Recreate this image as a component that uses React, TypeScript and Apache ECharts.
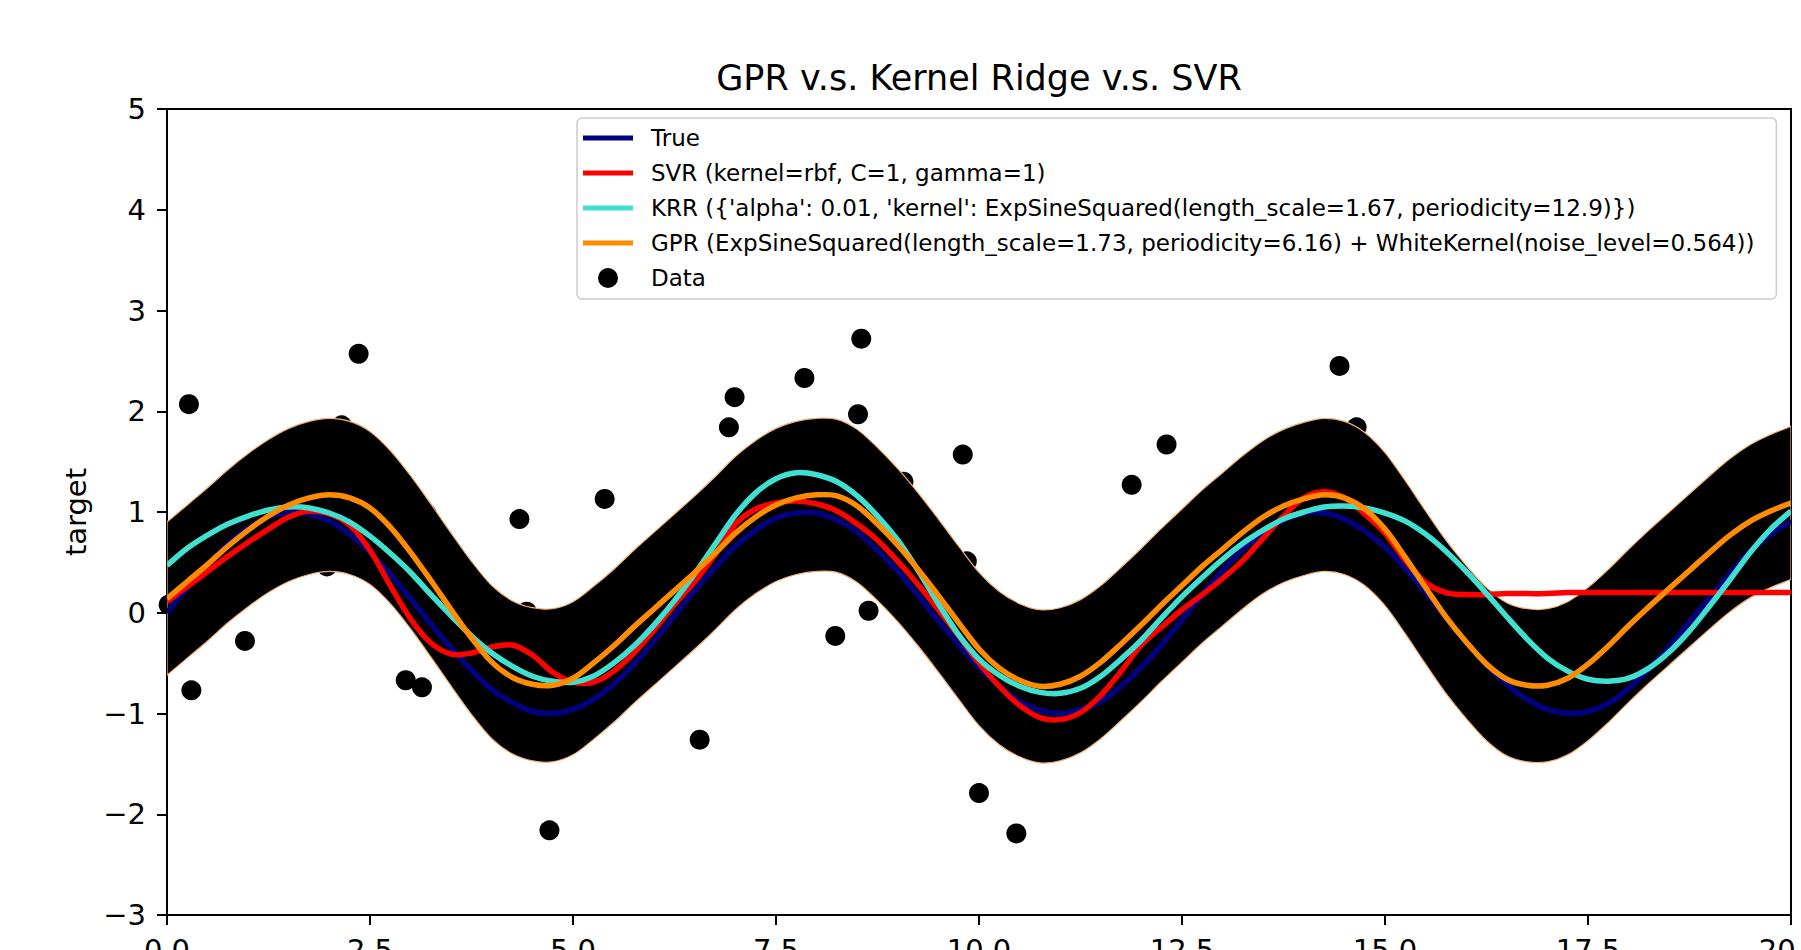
import React, { useEffect, useRef } from "react";
import * as echarts from "echarts";

const FONT = "'DejaVu Sans', 'Noto Sans', sans-serif";

const xs = [0, 0.25, 0.5, 0.75, 1, 1.25, 1.5, 1.75, 2, 2.25, 2.5, 2.75, 3, 3.25, 3.5, 3.75, 4, 4.25, 4.5, 4.75, 5, 5.25, 5.5, 5.75, 6, 6.25, 6.5, 6.75, 7, 7.25, 7.5, 7.75, 8, 8.25, 8.5, 8.75, 9, 9.25, 9.5, 9.75, 10, 10.25, 10.5, 10.75, 11, 11.25, 11.5, 11.75, 12, 12.25, 12.5, 12.75, 13, 13.25, 13.5, 13.75, 14, 14.25, 14.5, 14.75, 15, 15.25, 15.5, 15.75, 16, 16.25, 16.5, 16.75, 17, 17.25, 17.5, 17.75, 18, 18.25, 18.5, 18.75, 19, 19.25, 19.5, 19.75, 20];

const trueY = [
  0.00, 0.25, 0.48, 0.68, 0.84, 0.95, 1.00, 0.98,
  0.91, 0.78, 0.60, 0.38, 0.14, -0.11, -0.35, -0.57,
  -0.76, -0.89, -0.98, -1.00, -0.96, -0.86, -0.71, -0.51,
  -0.28, -0.03, 0.22, 0.45, 0.66, 0.82, 0.94, 0.99,
  0.99, 0.92, 0.80, 0.62, 0.41, 0.17, -0.08, -0.32,
  -0.54, -0.73, -0.88, -0.97, -1.00, -0.96, -0.88, -0.73,
  -0.54, -0.32, -0.07, 0.18, 0.42, 0.63, 0.80, 0.92,
  0.99, 0.99, 0.93, 0.81, 0.65, 0.44, 0.20, -0.05,
  -0.29, -0.52, -0.71, -0.86, -0.96, -1.00, -0.98, -0.90,
  -0.75, -0.56, -0.34, -0.09, 0.15, 0.39, 0.61, 0.78,
  0.91,
];

const svrY = [
  0.11, 0.26, 0.41, 0.56, 0.70, 0.83, 0.95, 1.01,
  0.98, 0.87, 0.62, 0.27, -0.06, -0.30, -0.41, -0.40,
  -0.34, -0.32, -0.42, -0.59, -0.69, -0.69, -0.58, -0.40,
  -0.17, 0.08, 0.31, 0.58, 0.88, 1.03, 1.09, 1.11,
  1.08, 1.01, 0.88, 0.72, 0.51, 0.28, 0.03, -0.23,
  -0.50, -0.73, -0.92, -1.04, -1.06, -0.99, -0.82, -0.58,
  -0.32, -0.14, 0.03, 0.18, 0.34, 0.52, 0.74, 0.96,
  1.14, 1.20, 1.14, 0.98, 0.79, 0.52, 0.30, 0.20,
  0.18, 0.18, 0.19, 0.19, 0.19, 0.20, 0.20, 0.20,
  0.20, 0.20, 0.20, 0.20, 0.20, 0.20, 0.20, 0.20,
  0.20,
];

const krrY = [
  0.47, 0.64, 0.77, 0.88, 0.96, 1.02, 1.05, 1.04,
  0.99, 0.90, 0.76, 0.59, 0.40, 0.18, -0.03, -0.23,
  -0.40, -0.53, -0.63, -0.68, -0.69, -0.63, -0.50, -0.33,
  -0.12, 0.12, 0.39, 0.68, 0.97, 1.19, 1.33, 1.39,
  1.37, 1.30, 1.16, 0.96, 0.72, 0.42, 0.09, -0.22,
  -0.46, -0.62, -0.73, -0.79, -0.80, -0.75, -0.63, -0.46,
  -0.27, -0.05, 0.16, 0.35, 0.53, 0.69, 0.82, 0.93,
  1.00, 1.05, 1.06, 1.04, 0.99, 0.91, 0.78, 0.61,
  0.41, 0.19, -0.04, -0.26, -0.45, -0.58, -0.66, -0.68,
  -0.65, -0.55, -0.39, -0.18, 0.07, 0.33, 0.60, 0.83,
  1.01,
];

const gprY = [
  0.14, 0.31, 0.48, 0.66, 0.82, 0.96, 1.07, 1.14,
  1.17, 1.14, 1.04, 0.85, 0.60, 0.32, 0.03, -0.25,
  -0.49, -0.64, -0.71, -0.72, -0.65, -0.50, -0.33, -0.14,
  0.04, 0.22, 0.40, 0.59, 0.79, 0.95, 1.07, 1.14,
  1.17, 1.16, 1.06, 0.88, 0.67, 0.43, 0.17, -0.10,
  -0.36, -0.55, -0.67, -0.73, -0.71, -0.63, -0.49, -0.31,
  -0.12, 0.08, 0.27, 0.46, 0.63, 0.80, 0.95, 1.06,
  1.13, 1.17, 1.14, 1.03, 0.83, 0.55, 0.25, -0.04,
  -0.29, -0.51, -0.66, -0.72, -0.72, -0.65, -0.51, -0.33,
  -0.13, 0.06, 0.24, 0.42, 0.60, 0.77, 0.91, 1.01,
  1.09,
];

const bandUpper = [
  0.90, 1.07, 1.24, 1.42, 1.58, 1.72, 1.83, 1.90,
  1.93, 1.90, 1.80, 1.61, 1.36, 1.08, 0.79, 0.51,
  0.27, 0.12, 0.05, 0.04, 0.11, 0.26, 0.43, 0.62,
  0.80, 0.98, 1.16, 1.35, 1.55, 1.71, 1.83, 1.90,
  1.93, 1.92, 1.82, 1.64, 1.43, 1.19, 0.93, 0.66,
  0.40, 0.21, 0.09, 0.03, 0.05, 0.13, 0.27, 0.45,
  0.64, 0.84, 1.03, 1.22, 1.39, 1.56, 1.71, 1.82,
  1.89, 1.93, 1.90, 1.79, 1.59, 1.31, 1.01, 0.72,
  0.47, 0.25, 0.10, 0.04, 0.04, 0.11, 0.25, 0.43,
  0.63, 0.82, 1.00, 1.18, 1.36, 1.53, 1.67, 1.77,
  1.85,
];

const bandLower = [
  -0.62, -0.45, -0.28, -0.10, 0.06, 0.20, 0.31, 0.38,
  0.41, 0.38, 0.28, 0.09, -0.16, -0.44, -0.73, -1.01,
  -1.25, -1.40, -1.47, -1.48, -1.41, -1.26, -1.09, -0.90,
  -0.72, -0.54, -0.36, -0.17, 0.03, 0.19, 0.31, 0.38,
  0.41, 0.40, 0.30, 0.12, -0.09, -0.33, -0.59, -0.86,
  -1.12, -1.31, -1.43, -1.49, -1.47, -1.39, -1.25, -1.07,
  -0.88, -0.68, -0.49, -0.30, -0.13, 0.04, 0.19, 0.30,
  0.37, 0.41, 0.38, 0.27, 0.07, -0.21, -0.51, -0.80,
  -1.05, -1.27, -1.42, -1.48, -1.48, -1.41, -1.27, -1.09,
  -0.89, -0.70, -0.52, -0.34, -0.16, 0.01, 0.15, 0.25,
  0.33,
];

const dataX = [0.02, 0.27, 0.30, 0.96, 1.97, 2.15, 2.36, 2.94, 3.14, 3.20, 4.34, 4.43, 4.71, 5.39, 6.56, 6.92, 6.99, 7.85, 8.23, 8.51, 8.55, 8.64, 9.07, 9.80, 9.85, 10.00, 10.46, 11.88, 12.31, 14.44, 14.65];
const dataY = [0.08, 2.07, -0.77, -0.28, 0.46, 1.86, 2.57, -0.67, -0.74, 0.98, 0.93, 0.01, -2.16, 1.13, -1.26, 1.84, 2.14, 2.33, -0.23, 1.97, 2.72, 0.02, 1.30, 1.57, 0.51, -1.79, -2.19, 1.27, 1.67, 2.45, 1.84];

const TITLE = "GPR v.s. Kernel Ridge v.s. SVR";
const NAME_TRUE = "True";
const NAME_SVR = "SVR (kernel=rbf, C=1, gamma=1)";
const NAME_KRR = "KRR ({'alpha': 0.01, 'kernel': ExpSineSquared(length_scale=1.67, periodicity=12.9)})";
const NAME_GPR = "GPR (ExpSineSquared(length_scale=1.73, periodicity=6.16) + WhiteKernel(noise_level=0.564))";
const NAME_DATA = "Data";

const LINE_ICON = "path://M0,0L0,0M63,20L63,20M0,7.5L50,7.5L50,12.5L0,12.5Z";
const DOT_ICON = "path://M0,0L0,0M63,20L63,20M25,0A10,10,0,1,1,25,20A10,10,0,1,1,25,0Z";

// Catmull-Rom curve through screen points, as cubic Bezier path commands (no leading M).
function smoothSegments(pts: number[][]): string {
  let d = "";
  const n = pts.length;
  for (let i = 0; i < n - 1; i++) {
    const p0 = pts[i === 0 ? 0 : i - 1];
    const p1 = pts[i];
    const p2 = pts[i + 1];
    const p3 = pts[i + 2 < n ? i + 2 : n - 1];
    const c1x = p1[0] + (p2[0] - p0[0]) / 6;
    const c1y = p1[1] + (p2[1] - p0[1]) / 6;
    const c2x = p2[0] - (p3[0] - p1[0]) / 6;
    const c2y = p2[1] - (p3[1] - p1[1]) / 6;
    d += ` C${c1x.toFixed(2)},${c1y.toFixed(2)} ${c2x.toFixed(2)},${c2y.toFixed(2)} ${p2[0].toFixed(2)},${p2[1].toFixed(2)}`;
  }
  return d;
}

function moveTo(p: number[]): string {
  return `M${p[0].toFixed(2)},${p[1].toFixed(2)}`;
}

export default function App() {
  const ref = useRef<HTMLDivElement>(null);

  useEffect(() => {
    document.body.style.margin = "0";
    if (!ref.current) return;
    const chart = echarts.init(ref.current, null, { renderer: "svg" });

    const curveSeries = (name: string, arr: number[], color: string) => ({
      name,
      type: "custom",
      data: xs.map((x, i) => [x, arr[i]]),
      encode: { x: 0, y: 1 },
      z: 4,
      clip: true,
      silent: true,
      itemStyle: { color },
      renderItem: (params: any, api: any) => {
        if (params.dataIndex !== 0) return null;
        const pts = xs.map((x, i) => api.coord([x, arr[i]]));
        return {
          type: "path",
          shape: { pathData: moveTo(pts[0]) + smoothSegments(pts), layout: "none" },
          style: { fill: "none", stroke: color, lineWidth: 5.5, lineJoin: "round", lineCap: "butt" },
        };
      },
    });

    const option: any = {
      animation: false,
      backgroundColor: "#ffffff",
      title: {
        text: TITLE,
        left: 979,
        top: 60,
        padding: 0,
        textAlign: "center",
        textStyle: { fontFamily: FONT, fontSize: 35, fontWeight: "normal", color: "#000", lineHeight: 35 },
      },
      legend: {
        orient: "vertical",
        left: 577,
        top: 118,
        padding: [8.5, 22, 9.5, 6],
        itemWidth: 63,
        itemHeight: 20,
        itemGap: 12,
        selectedMode: false,
        backgroundColor: "rgba(255,255,255,0.8)",
        borderColor: "#cccccc",
        borderWidth: 1.5,
        borderRadius: 5,
        z: 10,
        itemStyle: { borderWidth: 0 },
        textStyle: { fontFamily: FONT, fontSize: 23, color: "#000", lineHeight: 23 },
        data: [
          { name: NAME_TRUE, icon: LINE_ICON, itemStyle: { color: "#000080", borderWidth: 0 } },
          { name: NAME_SVR, icon: LINE_ICON, itemStyle: { color: "#ff0000", borderWidth: 0 } },
          { name: NAME_KRR, icon: LINE_ICON, itemStyle: { color: "#40e0d0", borderWidth: 0 } },
          { name: NAME_GPR, icon: LINE_ICON, itemStyle: { color: "#ff8c00", borderWidth: 0 } },
          { name: NAME_DATA, icon: DOT_ICON, itemStyle: { color: "#000000", borderWidth: 0 } },
        ],
      },
      grid: {
        left: 167,
        right: 10,
        top: 109,
        bottom: 35,
        containLabel: false,
        outerBoundsMode: "none",
        show: true,
        borderColor: "#000",
        borderWidth: 2,
        backgroundColor: "transparent",
      },
      xAxis: {
        type: "value",
        min: 0,
        max: 20,
        interval: 2.5,
        splitLine: { show: false },
        axisLine: { show: true, onZero: false, lineStyle: { color: "#000", width: 2 } },
        axisTick: { show: true, length: 10, lineStyle: { color: "#000", width: 2 } },
        axisLabel: {
          show: true,
          margin: 20,
          showMinLabel: true,
          showMaxLabel: true,
          hideOverlap: false,
          fontFamily: FONT,
          fontSize: 29,
          lineHeight: 29,
          color: "#000",
          formatter: (v: number) => v.toFixed(1),
        },
      },
      yAxis: {
        type: "value",
        min: -3,
        max: 5,
        interval: 1,
        name: "target",
        nameLocation: "middle",
        nameRotate: 90,
        nameGap: 77,
        nameTextStyle: { fontFamily: FONT, fontSize: 29, lineHeight: 29, color: "#000" },
        splitLine: { show: false },
        axisLine: { show: true, onZero: false, lineStyle: { color: "#000", width: 2 } },
        axisTick: { show: true, length: 10, lineStyle: { color: "#000", width: 2 } },
        axisLabel: {
          show: true,
          margin: 21,
          showMinLabel: true,
          showMaxLabel: true,
          fontFamily: FONT,
          fontSize: 29,
          color: "#000",
          formatter: (v: number) => (v < 0 ? "\u2212" + Math.abs(v) : String(v)),
        },
      },
      series: [
        {
          name: NAME_DATA,
          type: "scatter",
          data: dataX.map((x, i) => [x, dataY[i]]),
          symbol: "circle",
          symbolSize: 20,
          z: 2,
          itemStyle: { color: "#000000", opacity: 1 },
          emphasis: { disabled: true },
          silent: true,
        },
        {
          name: "GPR band",
          type: "custom",
          data: xs.map((x, i) => [x, bandLower[i], bandUpper[i]]),
          encode: { x: 0, y: [1, 2] },
          z: 3,
          clip: true,
          silent: true,
          renderItem: (params: any, api: any) => {
            if (params.dataIndex !== 0) return null;
            const up = xs.map((x, i) => api.coord([x, bandUpper[i]]));
            const lo = xs.map((x, i) => api.coord([x, bandLower[i]])).reverse();
            const d =
              moveTo(up[0]) +
              smoothSegments(up) +
              ` L${lo[0][0].toFixed(2)},${lo[0][1].toFixed(2)}` +
              smoothSegments(lo) +
              " Z";
            return {
              type: "path",
              shape: { pathData: d, layout: "none" },
              style: { fill: "#000000", stroke: "#f0b27a", lineWidth: 1.2 },
            };
          },
        },
        curveSeries(NAME_TRUE, trueY, "#000080"),
        curveSeries(NAME_SVR, svrY, "#ff0000"),
        curveSeries(NAME_KRR, krrY, "#40e0d0"),
        curveSeries(NAME_GPR, gprY, "#ff8c00"),
      ],
    };

    chart.setOption(option);
    return () => chart.dispose();
  }, []);

  return <div ref={ref} style={{ width: 1801, height: 950 }} />;
}
